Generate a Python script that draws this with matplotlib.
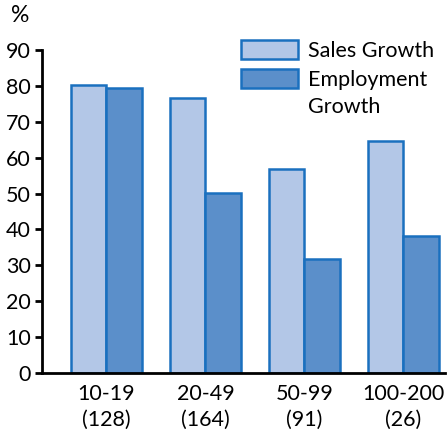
import matplotlib
matplotlib.use("Agg")
import matplotlib.pyplot as plt
import numpy as np
from matplotlib.patches import Rectangle

categories = ["10-19\n(128)", "20-49\n(164)", "50-99\n(91)", "100-200\n(26)"]
sales_growth = [80.2, 76.6, 56.8, 64.6]
employment_growth = [79.4, 50.1, 31.8, 38.2]
yticks = [0, 10, 20, 30, 40, 50, 60, 70, 80, 90]
legend_labels = ["Sales Growth", "Employment\nGrowth"]

plt.rcParams['font.family'] = ['Lato', 'DejaVu Sans']
FS = 15.5

W, H = 448, 432
fig = plt.figure(figsize=(W/100, H/100), dpi=100)
ax = fig.add_axes([42/W, 59/H, 403/W, 323/H])

edge = '#1a70bf'
light = '#b3c7e7'
dark = '#5b8fca'
x = np.arange(len(categories))
w = 0.36
ax.bar(x - w/2, sales_growth, w, color=light, edgecolor=edge, linewidth=1.8)
ax.bar(x + w/2, employment_growth, w, color=dark, edgecolor=edge, linewidth=1.8)

ax.set_xlim(-0.65, 3.42)
ax.set_ylim(0, 90)
ax.set_yticks(yticks)
ax.set_xticks(x)
ax.set_xticklabels(categories, fontsize=FS, linespacing=1.35)
ax.tick_params(axis='x', length=0, pad=8)
ax.tick_params(axis='y', length=5, width=2, labelsize=FS, pad=3)
for s in ['top', 'right']:
    ax.spines[s].set_visible(False)
ax.spines['left'].set_linewidth(2)
ax.spines['bottom'].set_linewidth(2)

fig.text(11/W, 1 - 16/H, '%', fontsize=FS + 1, va='center')

# legend drawn manually
for i, (col, lab) in enumerate(zip([light, dark], legend_labels)):
    y0 = [40, 69][i]
    fig.patches.append(Rectangle((241/W, 1 - (y0 + 19)/H), 57/W, 19/H,
                                 transform=fig.transFigure, facecolor=col,
                                 edgecolor=edge, linewidth=1.8))
    fig.text(308/W, 1 - (y0 + 1)/H, lab, fontsize=FS, va='top',
             linespacing=1.45)

fig.savefig('out.png', dpi=100)
